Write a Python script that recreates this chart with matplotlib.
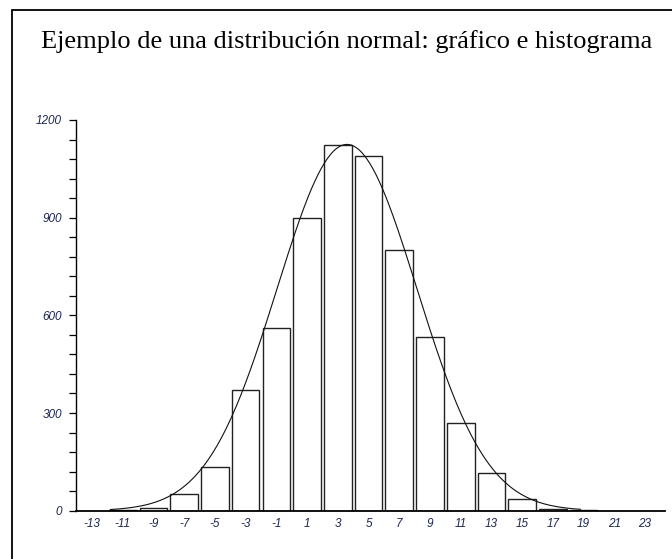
import numpy as np
import matplotlib.pyplot as plt
from matplotlib.patches import Rectangle
from matplotlib.ticker import MultipleLocator

# histogram bins (centres) and counts
centres = [-11, -9, -7, -5, -3, -1, 1, 3, 5, 7, 9, 11, 13, 15, 17, 19]
counts = [3, 9, 50, 134, 372, 562, 900, 1122, 1088, 800, 535, 270, 117, 37, 6, 3]
xticks = list(range(-13, 24, 2))
yticks = [0, 300, 600, 900, 1200]

# fitted normal curve: mean, sd, peak height
mu, sigma, peak = 3.6, 4.55, 1125

fig = plt.figure(figsize=(6.72, 5.59), dpi=100)
fig.patches.append(Rectangle((12 / 672, -0.1), 1.0, 1.1 - 10 / 559, fill=False,
                             lw=1.3, ec="black", transform=fig.transFigure))
fig.text(347 / 672, 1 - 42 / 559, "Ejemplo de una distribución normal: gráfico e histograma",
         ha="center", va="center", family="Liberation Serif", fontsize=19)

ax = fig.add_axes([76 / 672, 1 - 510.7 / 559, (665 - 76) / 672, (510.7 - 120) / 559])
ax.bar(centres, counts, width=1.8, fc="white", ec="#222222", lw=1.0)

xs = np.linspace(-11.8, 18.8, 300)
ax.plot(xs, peak * np.exp(-0.5 * ((xs - mu) / sigma) ** 2), color="#111111", lw=0.8)

ax.set_xlim(-14.04, 24.3)
ax.set_ylim(0, 1200)
for s in ["top", "right"]:
    ax.spines[s].set_visible(False)
ax.spines["left"].set_linewidth(1.0)
ax.spines["bottom"].set_linewidth(1.3)

ax.set_xticks(xticks)
ax.set_xticklabels([str(t) for t in xticks])
ax.tick_params(axis="x", length=0, pad=5)
ax.set_yticks(yticks)
ax.yaxis.set_minor_locator(MultipleLocator(60))
ax.tick_params(axis="y", which="both", length=5, width=0.9, pad=5)
for lab in ax.get_xticklabels() + ax.get_yticklabels():
    lab.set_family("Liberation Sans")
    lab.set_style("italic")
    lab.set_fontsize(8.5)
    lab.set_color("#1c2450")

fig.savefig("out.png", dpi=100)
